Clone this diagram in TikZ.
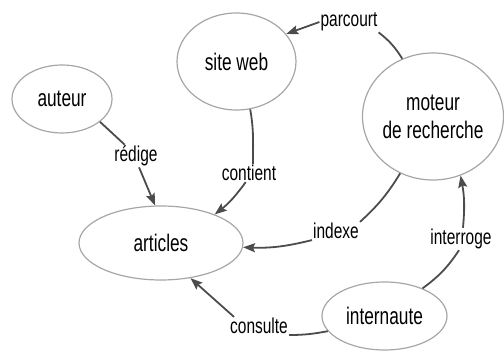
\documentclass[tikz,border=0pt]{standalone}
\usepackage{fontspec}
\setmainfont[FakeStretch=0.72]{Liberation Sans}
\usetikzlibrary{arrows.meta, shapes.geometric}

\begin{document}
\begin{tikzpicture}[x=1pt, y=-1pt,
    entity/.style={draw=gray!70, line width=1.2pt, ellipse, inner sep=0pt, align=center, font=\fontsize{24}{28}\selectfont},
    verb/.style={inner sep=1pt, font=\fontsize{21.5}{24}\selectfont},
    link/.style={draw=black!70, line width=1.8pt},
    arr/.style={link, -{Stealth[length=12pt, width=9pt, inset=2pt]}}]

    \useasboundingbox (0,0) rectangle (504,352);

    % Entities
    \node[entity, minimum width=100pt, minimum height=68pt] (auteur) at (62,99) {auteur};
    \node[entity, minimum width=119pt, minimum height=97pt] (siteweb) at (236.5,61.5) {site web};
    \node[entity, minimum width=141pt, minimum height=127pt, inner xsep=-2pt] (moteur) at (433,116.5) {moteur\\de recherche};
    \node[entity, minimum width=164pt, minimum height=74pt] (articles) at (161,243) {articles};
    \node[entity, minimum width=125pt, minimum height=68pt] (internaute) at (384.5,316) {internaute};

    % Verbs
    \node[verb] (redige) at (136,156) {rédige};
    \node[verb] (contient) at (249,173) {contient};
    \node[verb] (parcourt) at (349,22) {parcourt};
    \node[verb] (indexe) at (336,231) {indexe};
    \node[verb] (interroge) at (461,239) {interroge};
    \node[verb] (consulte) at (259,326) {consulte};

    % Links
    \draw[link] (auteur.-31) -- (redige.135);
    \draw[arr] (redige.-75) -- (articles.99);

    \draw[link] (siteweb.-74) to[out=-80, in=90] ([xshift=4pt]contient.north);
    \draw[arr] (contient.-110) to[bend left=8] (articles.28);

    \draw[link] (moteur.118) to[bend right=10] (parcourt.south east);
    \draw[arr] (parcourt.west) -- (siteweb.29);

    \draw[link] (moteur.240) to[bend left=8] (indexe.north east);
    \draw[arr] (indexe.south west) to[bend left=8] (articles.-3);

    \draw[link] (internaute.36) to[bend right=10] (interroge.-100);
    \draw[arr] (interroge.80) to[bend right=8] (moteur.-65);

    \draw[link] (internaute.195) to[bend left=5] (consulte.south east);
    \draw[arr] (consulte.160) -- (articles.-50);
\end{tikzpicture}
\end{document}
